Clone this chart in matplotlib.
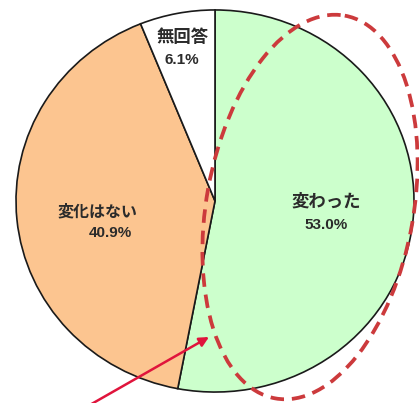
import matplotlib
matplotlib.use("Agg")
import matplotlib.pyplot as plt
from matplotlib.patches import Ellipse

plt.rcParams['font.family'] = ['Noto Sans CJK JP', 'DejaVu Sans']

labels = ["変わった", "変化はない", "無回答"]
values = [53.0, 40.9, 6.1]
colors = ["#ccffcc", "#fcc590", "#ffffff"]

W, H = 419, 403
fig = plt.figure(figsize=(W / 100, H / 100), dpi=100)

# pie, slightly squashed vertically
ax = fig.add_axes([15 / W, 10 / H, 400 / W, 384 / H])
ax.pie(values, colors=colors, startangle=90, counterclock=False,
       wedgeprops=dict(edgecolor="#1a1a1a", linewidth=1.2))
ax.set_aspect("auto")
ax.set_xlim(-1.005, 1.005)
ax.set_ylim(-1.005, 1.005)

# overlay in pixel coordinates (y down) for labels, ellipse and arrow
ov = fig.add_axes([0, 0, 1, 1])
ov.set_xlim(0, W)
ov.set_ylim(H, 0)
ov.axis("off")
ov.patch.set_alpha(0)

# (name x, name y, percent x, percent y, name size)
label_pos = [(326, 201, 326, 225, 12.5),
             (98, 211, 110, 233, 11.5),
             (183, 37, 182, 60, 12.5)]
for lab, v, (nx, ny, px, py, fs) in zip(labels, values, label_pos):
    ov.text(nx, ny, lab, ha="center", va="center", fontsize=fs,
            fontweight="bold", color="#2b2b2b")
    ov.text(px, py, f"{v:.1f}%", ha="center", va="center", fontsize=11,
            fontweight="bold", color="#2b2b2b", family="Liberation Sans")

# y axis is inverted here, so a positive angle tilts the top to the right
ov.add_patch(Ellipse((310, 207), 207, 389, angle=10.3, fill=False,
                     edgecolor="#cc3a3c", linewidth=2.7,
                     linestyle=(0, (3.6, 2.1))))

ov.annotate("", xy=(209, 337), xytext=(88, 406),
            arrowprops=dict(arrowstyle="-|>", color="#e0143c", lw=1.8,
                            mutation_scale=14, shrinkA=0, shrinkB=0))

fig.savefig("out.png", dpi=100)
